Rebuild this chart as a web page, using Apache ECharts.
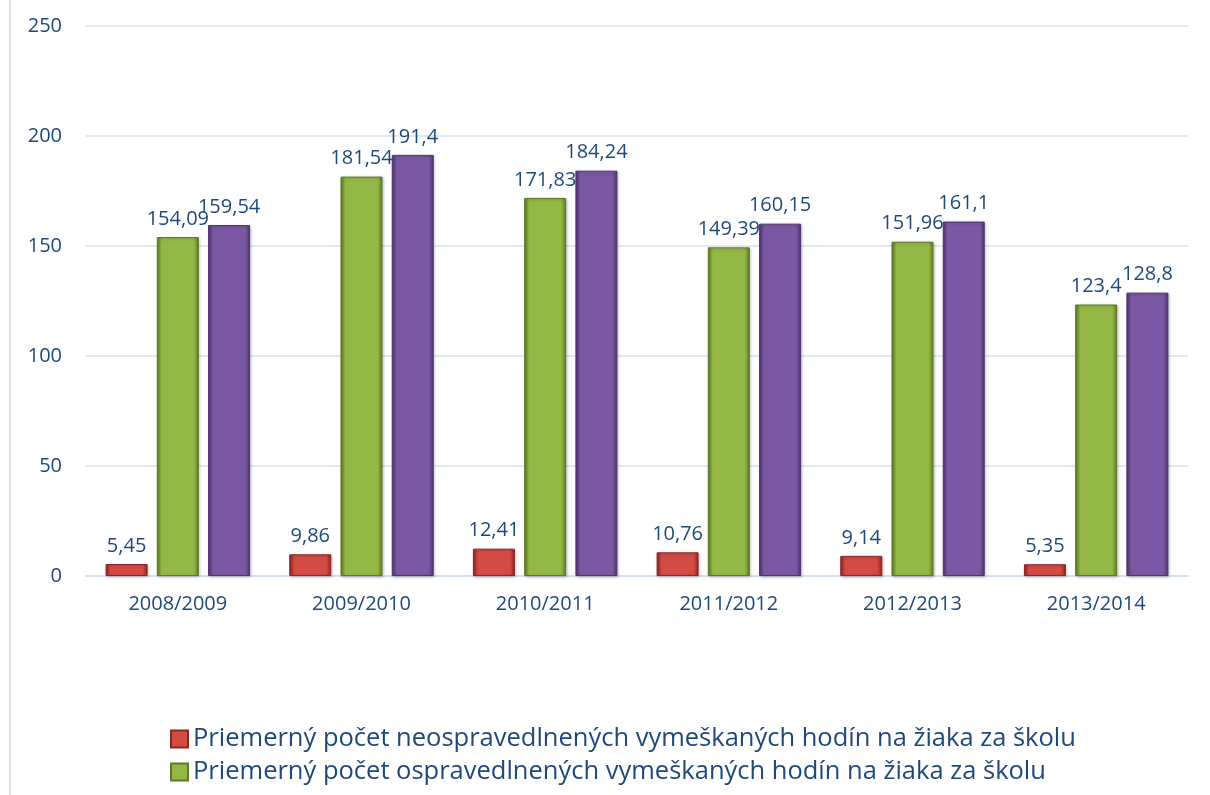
<!DOCTYPE html>
<html>
<head>
<meta charset="utf-8">
<script src="https://cdn.jsdelivr.net/npm/echarts@6/dist/echarts.min.js"></script>
<style>
  html, body { margin: 0; padding: 0; background: #fff; }
  #chart { width: 1210px; height: 795px; }
</style>
</head>
<body>
<div id="chart"></div>
<script>
// school years
const categories = ['2008/2009', '2009/2010', '2010/2011', '2011/2012', '2012/2013', '2013/2014']
// average hours per pupil
const unexcused = [5.45, 9.86, 12.41, 10.76, 9.14, 5.35]
const excused = [154.09, 181.54, 171.83, 149.39, 151.96, 123.4]
const total = [159.54, 191.4, 184.24, 160.15, 161.1, 128.8]
const yTicks = [0, 50, 100, 150, 200, 250]

const names = [
  'Priemerný počet neospravedlnených vymeškaných hodín na žiaka za školu',
  'Priemerný počet ospravedlnených vymeškaných hodín na žiaka za školu',
  'Priemerný počet vymeškaných hodín na žiaka za školu',
]

const textColor = '#1f497d'
const font = '"Open Sans", "DejaVu Sans", sans-serif'

// bar fill: darker edges, lighter middle
function barFill(edge, mid) {
  return new echarts.graphic.LinearGradient(0, 0, 1, 0, [
    { offset: 0, color: edge },
    { offset: 0.12, color: mid },
    { offset: 0.88, color: mid },
    { offset: 1, color: edge },
  ])
}

function makeSeries(name, data, edge, mid) {
  return {
    name: name,
    type: 'bar',
    data: data,
    barWidth: 42,
    barGap: '22%',
    itemStyle: {
      color: barFill(edge, mid),
      borderColor: edge,
      borderWidth: 1,
      shadowColor: 'rgba(0,0,0,0.25)',
      shadowBlur: 3,
      shadowOffsetX: 1,
      shadowOffsetY: 1,
    },
    label: {
      show: true,
      position: 'top',
      distance: 8,
      color: textColor,
      fontFamily: font,
      fontSize: 20,
      formatter: (p) => String(p.value).replace('.', ','),
    },
  }
}

// one legend line per entry, stacked like the original
function legendLine(name, top) {
  return {
    data: [name],
    left: 170,
    top: top,
    padding: 0,
    itemWidth: 17,
    itemHeight: 17,
    itemGap: 0,
    icon: 'rect',
    textStyle: { color: textColor, fontFamily: font, fontSize: 25.5 },
  }
}

const chart = echarts.init(document.getElementById('chart'))
chart.setOption({
  animation: false,
  textStyle: { fontFamily: font },
  graphic: [
    {
      type: 'line',
      shape: { x1: 10, y1: 0, x2: 10, y2: 795 },
      style: { stroke: '#d9e3f1', lineWidth: 2 },
    },
  ],
  grid: { left: 86, right: 22, top: 26, bottom: 219 },
  legend: [legendLine(names[0], 726), legendLine(names[1], 759)],
  xAxis: {
    type: 'category',
    data: categories,
    axisLine: { lineStyle: { color: '#d6e1ef', width: 2 } },
    axisTick: { show: false },
    axisLabel: { color: textColor, fontFamily: font, fontSize: 20, margin: 18 },
  },
  yAxis: {
    type: 'value',
    min: yTicks[0],
    max: yTicks[yTicks.length - 1],
    interval: 50,
    axisLine: { show: false },
    axisTick: { show: false },
    splitLine: { lineStyle: { color: '#d6e1ef', width: 1.5 } },
    axisLabel: { color: textColor, fontFamily: font, fontSize: 20, margin: 24 },
  },
  series: [
    makeSeries(names[0], unexcused, '#8e2522', '#d44a45'),
    makeSeries(names[1], excused, '#5f7a24', '#93b846'),
    makeSeries(names[2], total, '#4e3570', '#7b58a3'),
  ],
})
</script>
</body>
</html>
